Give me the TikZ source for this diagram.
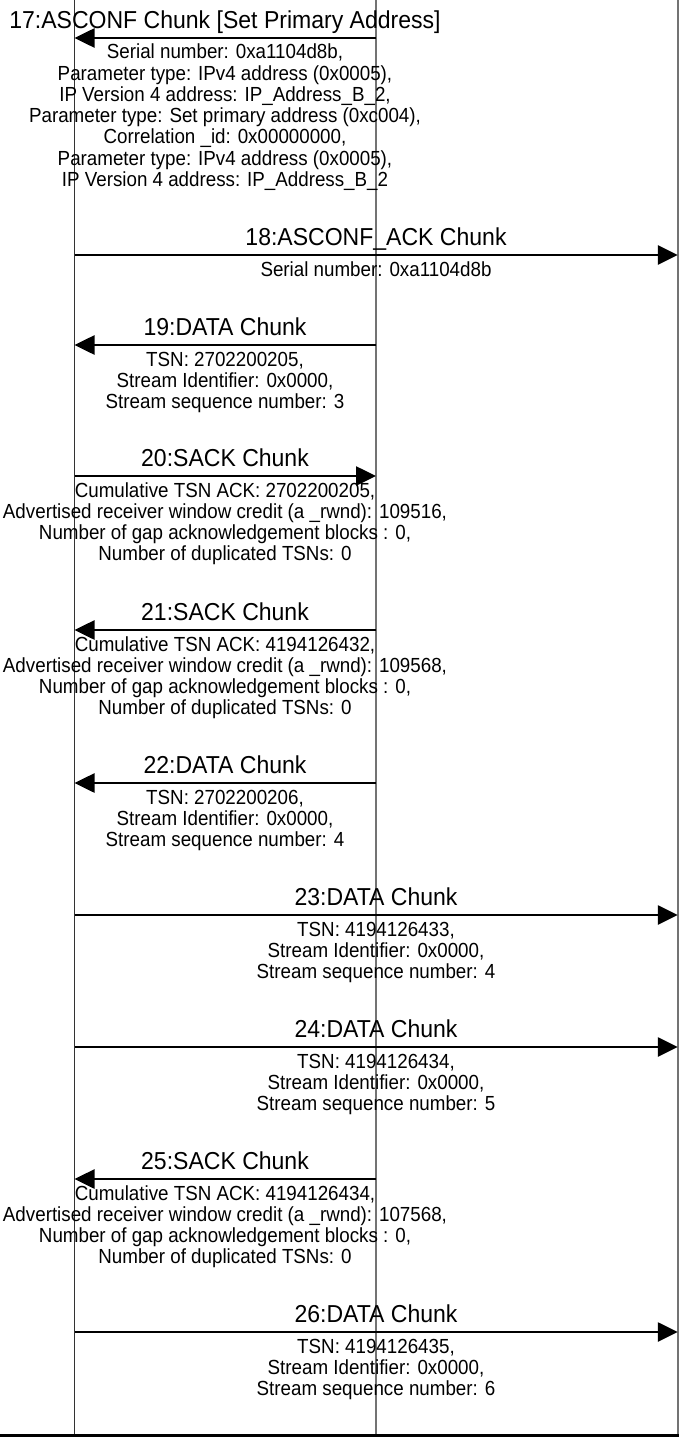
\documentclass[tikz,border=0pt]{standalone}
\usepackage{fontspec}
\setmainfont{Liberation Sans}
\newfontfamily\bodyfont[FakeStretch=0.92]{Liberation Sans}
\newfontfamily\ttlfont[FakeStretch=0.94]{Liberation Sans}
\usetikzlibrary{arrows.meta}
\begin{document}
\begin{tikzpicture}[x=1pt,y=-1pt,
  lifeA/.style={draw=black!80,line width=1.3pt},
  lifeB/.style={draw=black!55,line width=1.6pt},
  msg/.style={line width=2.6pt,-{Triangle[length=20pt,width=19pt]}},
  ttl/.style={anchor=base,inner sep=0pt,font=\ttlfont\fontsize{24.5}{28}\selectfont},
  body/.style={anchor=base,inner sep=0pt,font=\bodyfont\fontsize{20.4}{21.2}\selectfont}]
\useasboundingbox (0,0) rectangle (679,1437);
% lifelines
\coordinate (Atop) at (74.5,0);  \coordinate (Abot) at (74.5,1434);
\coordinate (Btop) at (376,0);   \coordinate (Bbot) at (376,1434);
\coordinate (Ctop) at (677.8,0); \coordinate (Cbot) at (677.8,1434);
\draw[lifeA] (Atop) -- (Abot);
\draw[lifeB] (Btop) -- (Bbot);
\draw[lifeB,line width=2pt] (Ctop) -- (Cbot);
\coordinate (L0) at (0,1435.5); \coordinate (L1) at (679,1435.5);
\draw[line width=3pt] (L0) -- (L1);

% 17
\coordinate (a17) at (74.5,38); \coordinate (b17) at (376,38);
\draw[msg] (b17) -- (a17);
\node[ttl] (t17) at (225,28.5) {17:ASCONF Chunk [Set Primary Address]};
\node[body] (d17a) at (225,59) {Serial number: 0xa1104d8b,};
\node[body] (d17b) at (225,80.2) {Parameter type: IPv4 address (0x0005),};
\node[body] (d17c) at (225,101.4) {IP Version 4 address: IP\_Address\_B\_2,};
\node[body] (d17d) at (225,122.6) {Parameter type: Set primary address (0xc004),};
\node[body] (d17e) at (225,143.8) {Correlation \_id: 0x00000000,};
\node[body] (d17f) at (225,165) {Parameter type: IPv4 address (0x0005),};
\node[body] (d17g) at (225,186.2) {IP Version 4 address: IP\_Address\_B\_2};

% 18
\coordinate (a18) at (74.5,255); \coordinate (c18) at (677.8,255);
\draw[msg] (a18) -- (c18);
\node[ttl] (t18) at (376,245.5) {18:ASCONF\_ACK Chunk};
\node[body] (d18a) at (376,276) {Serial number: 0xa1104d8b};

% 19
\coordinate (a19) at (74.5,345); \coordinate (b19) at (376,345);
\draw[msg] (b19) -- (a19);
\node[ttl] (t19) at (225,335.5) {19:DATA Chunk};
\node[body] (d19a) at (225,366) {TSN: 2702200205,};
\node[body] (d19b) at (225,387.2) {Stream Identifier: 0x0000,};
\node[body] (d19c) at (225,408.4) {Stream sequence number: 3};

% 20
\coordinate (a20) at (74.5,476); \coordinate (b20) at (376,476);
\draw[msg] (a20) -- (b20);
\node[ttl] (t20) at (225,466.5) {20:SACK Chunk};
\node[body] (d20a) at (225,497) {Cumulative TSN ACK: 2702200205,};
\node[body] (d20b) at (225,518.2) {Advertised receiver window credit (a \_rwnd): 109516,};
\node[body] (d20c) at (225,539.4) {Number of gap acknowledgement blocks : 0,};
\node[body] (d20d) at (225,560.6) {Number of duplicated TSNs: 0};

% 21
\coordinate (a21) at (74.5,630); \coordinate (b21) at (376,630);
\draw[msg] (b21) -- (a21);
\node[ttl] (t21) at (225,620.5) {21:SACK Chunk};
\node[body] (d21a) at (225,651) {Cumulative TSN ACK: 4194126432,};
\node[body] (d21b) at (225,672.2) {Advertised receiver window credit (a \_rwnd): 109568,};
\node[body] (d21c) at (225,693.4) {Number of gap acknowledgement blocks : 0,};
\node[body] (d21d) at (225,714.6) {Number of duplicated TSNs: 0};

% 22
\coordinate (a22) at (74.5,783); \coordinate (b22) at (376,783);
\draw[msg] (b22) -- (a22);
\node[ttl] (t22) at (225,773.5) {22:DATA Chunk};
\node[body] (d22a) at (225,804) {TSN: 2702200206,};
\node[body] (d22b) at (225,825.2) {Stream Identifier: 0x0000,};
\node[body] (d22c) at (225,846.4) {Stream sequence number: 4};

% 23
\coordinate (a23) at (74.5,915); \coordinate (c23) at (677.8,915);
\draw[msg] (a23) -- (c23);
\node[ttl] (t23) at (376,905.5) {23:DATA Chunk};
\node[body] (d23a) at (376,936) {TSN: 4194126433,};
\node[body] (d23b) at (376,957.2) {Stream Identifier: 0x0000,};
\node[body] (d23c) at (376,978.4) {Stream sequence number: 4};

% 24
\coordinate (a24) at (74.5,1047); \coordinate (c24) at (677.8,1047);
\draw[msg] (a24) -- (c24);
\node[ttl] (t24) at (376,1037.5) {24:DATA Chunk};
\node[body] (d24a) at (376,1068) {TSN: 4194126434,};
\node[body] (d24b) at (376,1089.2) {Stream Identifier: 0x0000,};
\node[body] (d24c) at (376,1110.4) {Stream sequence number: 5};

% 25
\coordinate (a25) at (74.5,1179); \coordinate (b25) at (376,1179);
\draw[msg] (b25) -- (a25);
\node[ttl] (t25) at (225,1169.5) {25:SACK Chunk};
\node[body] (d25a) at (225,1200) {Cumulative TSN ACK: 4194126434,};
\node[body] (d25b) at (225,1221.2) {Advertised receiver window credit (a \_rwnd): 107568,};
\node[body] (d25c) at (225,1242.4) {Number of gap acknowledgement blocks : 0,};
\node[body] (d25d) at (225,1263.6) {Number of duplicated TSNs: 0};

% 26
\coordinate (a26) at (74.5,1332); \coordinate (c26) at (677.8,1332);
\draw[msg] (a26) -- (c26);
\node[ttl] (t26) at (376,1322.5) {26:DATA Chunk};
\node[body] (d26a) at (376,1353) {TSN: 4194126435,};
\node[body] (d26b) at (376,1374.2) {Stream Identifier: 0x0000,};
\node[body] (d26c) at (376,1395.4) {Stream sequence number: 6};
\end{tikzpicture}
\end{document}
